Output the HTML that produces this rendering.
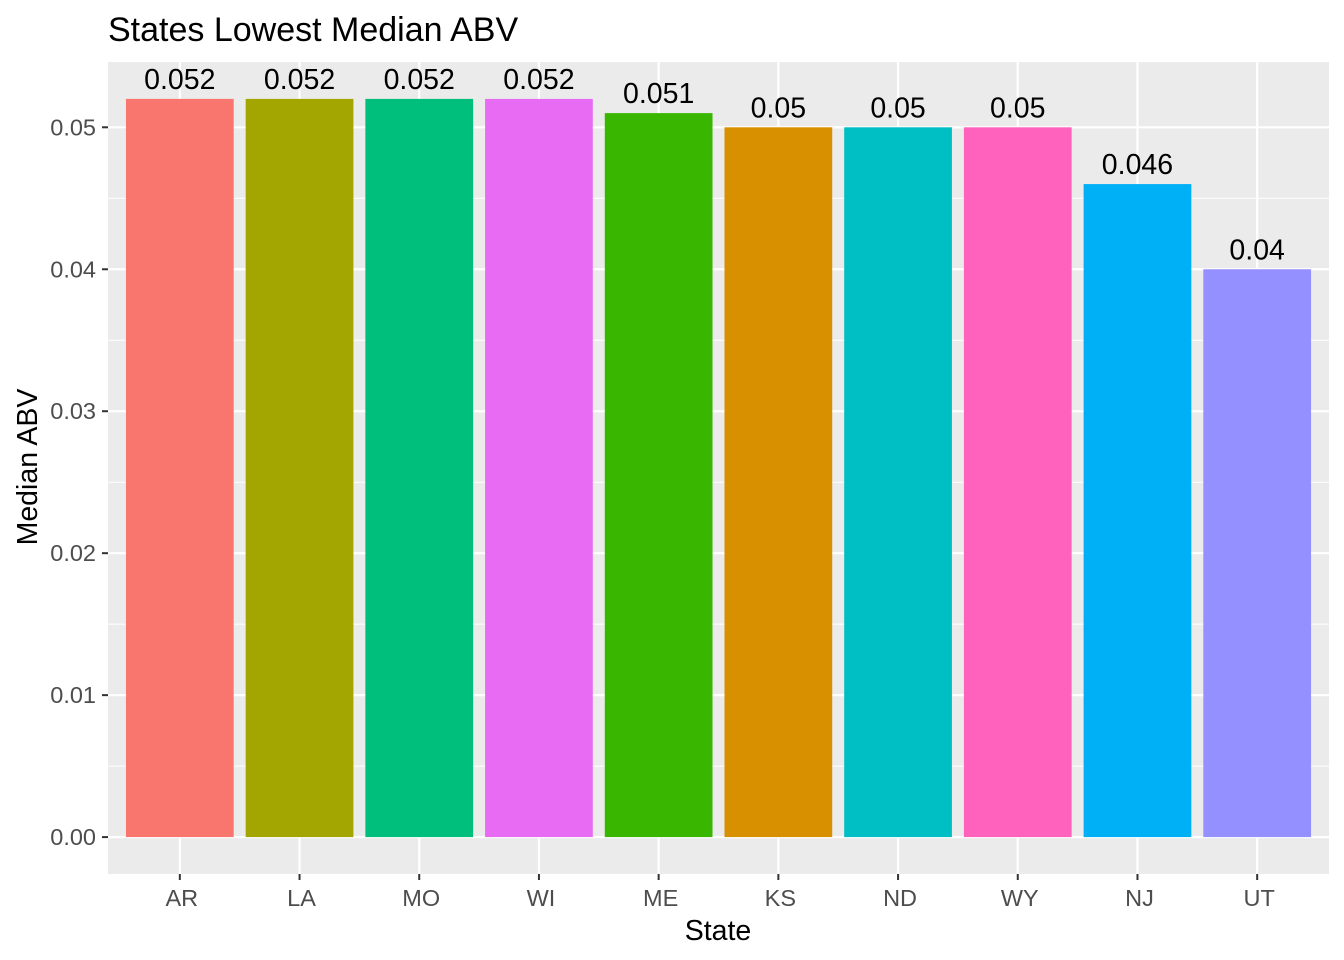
<!DOCTYPE html>
<html><head><meta charset="utf-8"><style>
body{margin:0;background:#fff;}
svg{display:block;font-family:"Liberation Sans",Arial,sans-serif;}
</style></head><body>
<svg id="chart" width="1344" height="960">
<rect width="1344" height="960" fill="#fff"/>
<text x="108" y="41" font-size="34" fill="#000">States Lowest Median ABV</text>
<rect x="108" y="62" width="1221" height="812" fill="#EBEBEB"/>
<g id="grid"></g><g id="bars"></g><g id="labels"></g><g id="axes"></g>
<text x="718" y="940" font-size="28.5" text-anchor="middle" fill="#000">State</text>
<text transform="translate(37,467) rotate(-90)" font-size="28.5" text-anchor="middle" fill="#000">Median ABV</text>
</svg>
<script>
const categories=["AR","LA","MO","WI","ME","KS","ND","WY","NJ","UT"];
const values=[0.052,0.052,0.052,0.052,0.051,0.05,0.05,0.05,0.046,0.04];
const valueLabels=["0.052","0.052","0.052","0.052","0.051","0.05","0.05","0.05","0.046","0.04"];
const colors=["#F8766D","#A3A500","#00BF7D","#E76BF3","#39B600","#D89000","#00BFC4","#FF62BC","#00B0F6","#9590FF"];
const yTicks=[0,0.01,0.02,0.03,0.04,0.05];
const yTickLabels=["0.00","0.01","0.02","0.03","0.04","0.05"];
const NS="http://www.w3.org/2000/svg";
const L=108,R=1329,T=62,B=874;
const n=categories.length;
const step=(R-L)/(n+0.2);
const xs=i=>L+(i+0.6)*step;
const ymax=Math.max(...values)*1.05, ymin=-Math.max(...values)*0.05;
const ys=v=>B-(v-ymin)/(ymax-ymin)*(B-T);
function mk(tag,attrs,parent){const e=document.createElementNS(NS,tag);for(const k in attrs)e.setAttribute(k,attrs[k]);document.getElementById(parent).appendChild(e);return e;}
for(let i=0;i<yTicks.length;i++){
  const v=yTicks[i]+0.005; if(ys(v)>T){
  const g=mk("line",{x1:L,x2:R,y1:ys(v),y2:ys(v),stroke:"#fff","stroke-width":1},"grid");
  
  }
}
yTicks.forEach((v,i)=>{
  const g=mk("line",{x1:L,x2:R,y1:ys(v),y2:ys(v),stroke:"#fff","stroke-width":2.2},"grid");
  
  
  const tk=mk("line",{x1:L-6,x2:L,y1:ys(v),y2:ys(v),stroke:"#333","stroke-width":2},"axes");
  
  
  const t=mk("text",{x:L-12,y:ys(v)+8,"font-size":23.5,"text-anchor":"end",fill:"#4D4D4D"},"axes");
  t.textContent=yTickLabels[i];
  
  
});
categories.forEach((c,i)=>{
  const x=xs(i);
  const g=mk("line",{x1:x,x2:x,y1:T,y2:B,stroke:"#fff","stroke-width":2.2},"grid");
  
  
  const w=step*0.9;
  const b=mk("rect",{x:x-w/2,y:ys(values[i]),width:w,height:ys(0)-ys(values[i]),fill:colors[i]},"bars");
  
  
  const lb=mk("text",{x:x,y:ys(values[i])-10,"font-size":28.5,"text-anchor":"middle",fill:"#000"},"labels");
  lb.textContent=valueLabels[i];
  
  
  const tk=mk("line",{x1:x,x2:x,y1:B,y2:B+6,stroke:"#333","stroke-width":2},"axes");
  
  
  const t=mk("text",{x:x+2,y:B+32,"font-size":23.5,"text-anchor":"middle",fill:"#4D4D4D"},"axes");
  t.textContent=c;
  
  
});
</script>
</body></html>
